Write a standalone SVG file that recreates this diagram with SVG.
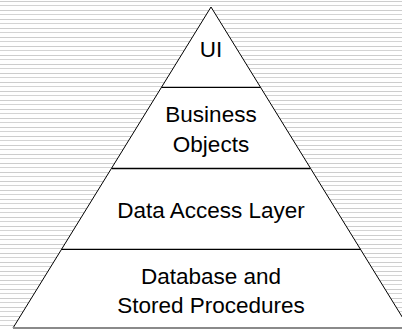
<svg xmlns="http://www.w3.org/2000/svg" width="402" height="330" viewBox="0 0 402 330">
  <defs>
    <!-- faint ruled-paper background -->
    <pattern id="ruled" x="0" y="0" width="402" height="9" patternUnits="userSpaceOnUse">
      <rect x="0" y="1" width="402" height="1" fill="#cdcdcd"/>
      <rect x="0" y="5" width="402" height="1" fill="#d4d4d4"/>
    </pattern>
    <style>
      .layer { fill: #ffffff; stroke: none; }
      .divider { stroke: #000000; stroke-width: 1.3; fill: none; }
      .edge { stroke: #000000; stroke-width: 1; fill: none; }
      .label { font-family: "Liberation Sans", Arial, sans-serif; font-size: 22.5px; fill: #000000; text-anchor: middle; }
    </style>
  </defs>

  <rect x="0" y="0" width="402" height="330" fill="#ffffff"/>
  <rect x="0" y="0" width="402" height="327" fill="url(#ruled)"/>

  <!-- pyramid body -->
  <polygon class="layer" points="211,7 13,328 409,328"/>

  <g id="ui">
    <text class="label" x="211" y="57">UI</text>
  </g>

  <g id="business-objects">
    <line class="divider" x1="161.6" y1="87.3" x2="260.4" y2="87.3"/>
    <text class="label" x="211" y="122">Business</text>
    <text class="label" x="211" y="152">Objects</text>
  </g>

  <g id="data-access-layer">
    <line class="divider" x1="112" y1="168.5" x2="310" y2="168.5"/>
    <text class="label" x="211" y="218">Data Access Layer</text>
  </g>

  <g id="database">
    <line class="divider" x1="61.5" y1="249.3" x2="360.5" y2="249.3"/>
    <text class="label" x="211" y="284">Database and</text>
    <text class="label" x="211" y="313">Stored Procedures</text>
  </g>

  <g id="connectors">
    <polyline class="edge" points="13,328 211,7 409,328"/>
    <line x1="13" y1="328" x2="402" y2="328" stroke="#8a8a8a" stroke-width="2"/>
  </g>
</svg>
